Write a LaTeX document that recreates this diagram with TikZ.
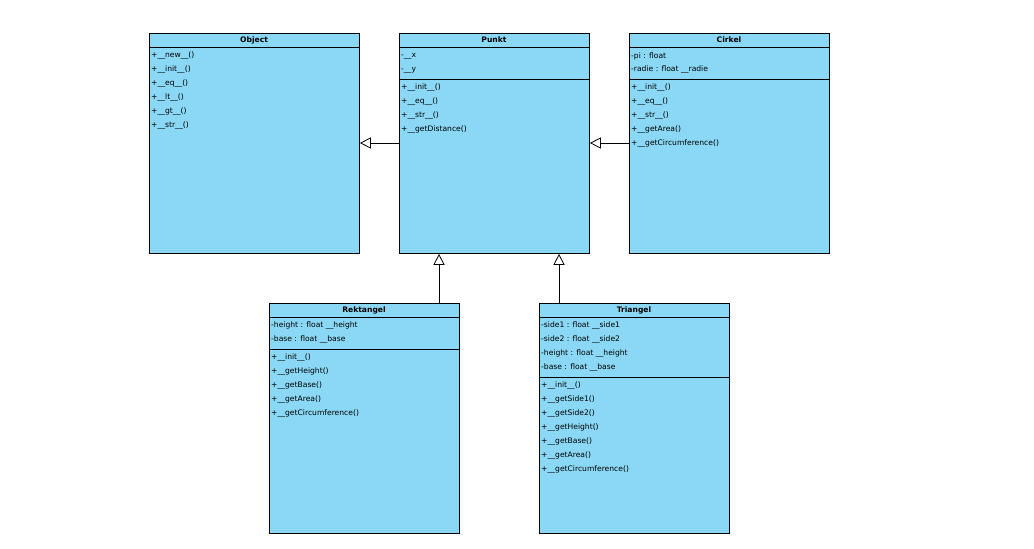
\documentclass[tikz,border=0pt]{standalone}
\usepackage{fontspec}
\setmainfont{DejaVu Sans}
\usetikzlibrary{arrows.meta}
\definecolor{cls}{HTML}{8AD8F5}
\tikzset{
  box/.style={draw=black, fill=cls, line width=0.8pt, inner sep=0pt, anchor=north west},
  row/.style={anchor=west, inner sep=0pt, font=\fontsize{7.6}{8}\selectfont},
  ttl/.style={inner sep=0pt, font=\fontsize{7.6}{8}\selectfont\bfseries},
  inh/.style={draw=black, line width=0.8pt, -{Triangle[open, length=11pt, width=11pt]}}
}
% name, title, x1, y1, x2, y2, sep1, sep2 (or empty)
\newcommand{\umlcls}[8]{%
  \node[box, minimum width={(#5-#3)*1pt}, minimum height={(#6-#4)*1pt}] (#1) at (#3,-#4) {};
  \node[ttl] (#1-t) at ({(#3+#5)/2},{-(#4+7)}) {#2};
  \draw[line width=0.8pt] (#3,-#7) -- (#5,-#7);
  \if\relax\detokenize{#8}\relax\else
  \draw[line width=0.8pt] (#3,-#8) -- (#5,-#8);\fi
}
\newcommand{\rows}[4]{% name, x, first y, list
  \foreach \t [count=\i] in {#4} {
    \node[row] (#1-r\i) at ({#2+2},{-(#3+(\i-1)*14)}) {\t};
  }
}
\begin{document}
\begin{tikzpicture}[x=1pt,y=1pt]
\useasboundingbox[fill=white] (0,0) rectangle (1034,-549);
\umlcls{obj}{Object}{149}{33}{359}{253}{47}{}
\rows{obj}{149}{56}{+\_\_new\_\_(),+\_\_init\_\_(),+\_\_eq\_\_(),+\_\_lt\_\_(),+\_\_gt\_\_(),+\_\_str\_\_()}
\umlcls{pkt}{Punkt}{399}{33}{589}{253}{47}{79}
\rows{pkta}{399}{56}{-\_\_x,-\_\_y}
\rows{pktm}{399}{88}{+\_\_init\_\_(),+\_\_eq\_\_(),+\_\_str\_\_(),+\_\_getDistance()}
\umlcls{cir}{Cirkel}{629}{33}{829}{253}{47}{79}
\rows{cira}{629}{56}{-pi : float,-radie : float \_\_radie}
\rows{cirm}{629}{88}{+\_\_init\_\_(),+\_\_eq\_\_(),+\_\_str\_\_(),+\_\_getArea(),+\_\_getCircumference()}
\umlcls{rek}{Rektangel}{269}{303}{459}{533}{317}{349}
\rows{reka}{269}{326}{-height : float \_\_height,-base : float \_\_base}
\rows{rekm}{269}{358}{+\_\_init\_\_(),+\_\_getHeight(),+\_\_getBase(),+\_\_getArea(),+\_\_getCircumference()}
\umlcls{tri}{Triangel}{539}{303}{729}{533}{317}{377}
\rows{tria}{539}{326}{-side1 : float \_\_side1,-side2 : float \_\_side2,-height : float \_\_height,-base : float \_\_base}
\rows{trim}{539}{386}{+\_\_init\_\_(),+\_\_getSide1(),+\_\_getSide2(),+\_\_getHeight(),+\_\_getBase(),+\_\_getArea(),+\_\_getCircumference()}
\path[inh] (pkt.west |- 0,-143) -- (obj.east |- 0,-143);
\path[inh] (cir.west |- 0,-143) -- (pkt.east |- 0,-143);
\path[inh] (439,0 |- rek.north) -- (439,0 |- pkt.south);
\path[inh] (559,0 |- tri.north) -- (559,0 |- pkt.south);
\end{tikzpicture}
\end{document}
